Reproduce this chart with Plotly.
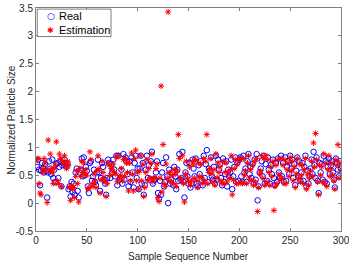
import plotly.graph_objects as go

sample_index = list(range(1, 301))

real_values = [
    0.65, 0.78, 0.60, 0.32, 0.58, 0.72, 0.62, 0.55, 0.70, 0.58,
    0.10, 0.55, 0.75, 0.62, 0.52, 0.78, 0.45, 0.60, 0.38, 0.70,
    0.72, 0.45, 0.65, 0.75, 0.30, 0.68, 0.72, 0.78, 0.70, 0.65,
    0.72, 0.25, 0.30, 0.12, 0.38, 0.20, 0.35, 0.15, 0.55, 0.62,
    0.22, 0.10, 0.55, 0.60, 0.80, 0.48, 0.82, 0.50, 0.65, 0.58,
    0.30, 0.18, 0.72, 0.75, 0.40, 0.48, 0.60, 0.38, 0.32, 0.55,
    0.78, 0.55, 0.22, 0.45, 0.72, 0.65, 0.42, 0.35, 0.15, 0.45,
    0.78, 0.72, 0.45, 0.70, 0.55, 0.78, 0.60, 0.48, 0.85, 0.32,
    0.85, 0.42, 0.45, 0.60, 0.35, 0.88, 0.42, 0.82, 0.75, 0.52,
    0.30, 0.75, 0.38, 0.82, 0.55, 0.28, 0.72, 0.85, 0.45, 0.62,
    0.25, 0.62, 0.85, 0.35, 0.72, 0.15, 0.32, 0.60, 0.85, 0.45,
    0.68, 0.42, 0.75, 0.92, 0.35, 0.42, 0.42, 0.55, 0.75, 0.18,
    0.08, 0.40, 0.15, 0.55, 0.72, 0.30, 0.38, 0.82, 0.48, 0.00,
    0.60, 0.35, 0.42, 0.55, 0.32, 0.65, 0.48, 0.25, 0.60, 0.40,
    0.88, 0.42, 0.45, 0.92, 0.38, 0.10, 0.55, 0.72, 0.48, 0.35,
    0.72, 0.28, 0.35, 0.78, 0.62, 0.48, 0.80, 0.35, 0.30, 0.68,
    0.52, 0.75, 0.42, 0.32, 0.85, 0.45, 0.70, 0.95, 0.38, 0.62,
    0.58, 0.82, 0.48, 0.42, 0.65, 0.35, 0.85, 0.42, 0.78, 0.60,
    0.70, 0.45, 0.32, 0.80, 0.38, 0.52, 0.75, 0.30, 0.60, 0.48,
    0.55, 0.78, 0.25, 0.48, 0.65, 0.82, 0.38, 0.72, 0.40, 0.78,
    0.82, 0.48, 0.38, 0.85, 0.55, 0.62, 0.38, 0.75, 0.88, 0.52,
    0.65, 0.45, 0.70, 0.35, 0.78, 0.42, 0.88, 0.05, 0.30, 0.55,
    0.62, 0.75, 0.48, 0.85, 0.35, 0.70, 0.40, 0.82, 0.60, 0.35,
    0.68, 0.52, 0.78, 0.45, 0.32, 0.72, 0.38, 0.80, 0.55, 0.45,
    0.85, 0.48, 0.72, 0.38, 0.82, 0.40, 0.65, 0.75, 0.52, 0.85,
    0.62, 0.78, 0.45, 0.70, 0.32, 0.58, 0.82, 0.48, 0.75, 0.40,
    0.55, 0.72, 0.40, 0.65, 0.85, 0.30, 0.58, 0.35, 0.48, 0.62,
    0.78, 0.52, 0.92, 0.68, 0.45, 0.82, 0.40, 0.18, 0.72, 0.55,
    0.70, 0.42, 0.85, 0.38, 0.75, 0.35, 0.65, 0.80, 0.52, 0.68,
    0.75, 0.55, 0.42, 0.28, 0.80, 0.72, 0.60, 0.48, 0.75, 0.62,
]

estimation_values = [
    0.78, 0.80, 0.35, 0.18, 0.15, 0.62, 0.55, 0.80, 0.72, 0.60,
    0.01, 1.13, 0.58, 0.88, 0.62, 0.55, 0.35, 0.62, 0.70, 1.10,
    0.40, 0.35, 0.88, 0.80, 0.30, 0.75, 0.70, 0.85, 0.72, 0.62,
    0.75, 0.68, 0.28, 0.05, 0.32, 0.25, 0.28, 0.10, 0.48, 0.58,
    0.35, 0.02, 0.62, 0.48, 0.75, 0.55, 0.72, 0.52, 0.60, 0.50,
    0.25, 0.28, 0.92, 0.78, 0.30, 0.35, 0.52, 0.40, 0.28, 0.58,
    0.85, 0.62, 0.18, 0.42, 0.75, 0.55, 0.45, 0.38, 0.12, 0.35,
    0.72, 0.68, 0.50, 0.62, 0.60, 0.70, 0.55, 0.52, 0.82, 0.38,
    0.85, 0.45, 0.50, 0.62, 0.40, 0.78, 0.48, 0.80, 0.72, 0.55,
    0.22, 0.72, 0.40, 0.90, 0.52, 0.22, 0.80, 0.95, 0.40, 0.55,
    0.25, 0.58, 0.85, 0.40, 0.70, 0.12, 0.28, 0.55, 0.78, 0.40,
    0.62, 0.45, 0.72, 0.88, 0.38, 0.45, 0.45, 0.62, 0.70, 0.10,
    0.03, 0.45, 2.10, 0.20, 1.05, 0.35, 0.30, 0.70, 0.45, 3.43,
    0.55, 0.40, 0.38, 0.50, 0.35, 0.60, 0.52, 0.30, 0.58, 1.23,
    0.80, 0.45, 0.40, 0.85, 0.35, 0.02, 0.52, 0.75, 0.45, 0.38,
    0.65, 0.32, 0.40, 0.75, 0.70, 0.45, 0.78, 0.40, 0.28, 0.72,
    0.48, 0.70, 0.45, 0.35, 0.80, 0.40, 0.75, 1.23, 0.35, 0.55,
    0.62, 0.80, 0.52, 0.38, 0.60, 0.32, 0.88, 0.45, 0.72, 0.55,
    0.65, 0.40, 0.35, 0.75, 0.35, 0.55, 0.72, 0.38, 0.55, 0.45,
    0.60, 0.85, 0.15, 0.42, 0.62, 0.78, 0.35, 0.70, 0.35, 0.80,
    0.78, 0.38, 0.35, 0.80, 0.50, 0.58, 0.35, 0.72, 0.85, 0.45,
    0.60, 0.40, 0.68, 0.32, 0.75, 0.38, 0.80, -0.15, 0.28, 0.52,
    0.58, 0.85, 0.45, 0.80, 0.32, 0.85, 0.38, 0.78, 0.55, 0.32,
    0.65, 0.48, 0.75, -0.13, 0.30, 0.68, 0.35, 0.78, 0.52, 0.42,
    0.80, 0.45, 0.68, 0.35, 0.78, 0.35, 0.60, 0.72, 0.48, 0.82,
    0.58, 0.75, 0.40, 0.65, 0.28, 0.52, 0.80, 0.45, 0.70, 0.38,
    0.50, 0.68, 0.35, 0.60, 0.80, 0.25, 0.52, 0.32, 0.45, 0.58,
    0.75, 0.48, 1.08, 0.65, 1.25, 0.78, 0.38, 0.15, 0.68, 0.50,
    0.65, 0.38, 0.88, 0.35, 0.72, 0.30, 0.60, 0.85, 0.48, 0.62,
    0.72, 0.50, 0.40, 0.25, 0.78, 0.68, 1.05, 0.45, 0.72, 0.58,
]

x_ticks = [0, 50, 100, 150, 200, 250, 300]
y_ticks = [-0.5, 0, 0.5, 1, 1.5, 2, 2.5, 3, 3.5]
y_tick_labels = ["-0.5", "0", "0.5", "1", "1.5", "2", "2.5", "3", "3.5"]
legend_labels = ["Real", "Estimation"]
x_title = "Sample Sequence Number"
y_title = "Normalized Particle Size"

fig = go.Figure()
fig.add_trace(go.Scatter(
    x=sample_index, y=real_values, mode="markers", name=legend_labels[0],
    marker=dict(symbol="circle-open", size=5.5, color="#0000FF",
                line=dict(width=1, color="#0000FF")),
))
fig.add_trace(go.Scatter(
    x=sample_index, y=estimation_values, mode="markers", name=legend_labels[1],
    marker=dict(symbol="asterisk-open", size=5, color="#FF0000",
                line=dict(width=1, color="#FF0000")),
))

axis_common = dict(
    showgrid=False, zeroline=False, showline=True, linecolor="#808080",
    linewidth=1, mirror="ticks", ticks="inside", ticklen=3,
    tickcolor="#808080", tickfont=dict(size=10, color="#262626"),
    automargin=False, ticklabeloverflow="allow",
)

fig.update_layout(
    width=349, height=262,
    margin=dict(l=36, r=8, t=8, b=31),
    paper_bgcolor="white", plot_bgcolor="white",
    font=dict(family="Liberation Sans, Arial, sans-serif", color="#262626"),
    showlegend=False,
    xaxis=dict(range=[0, 300], tickvals=x_ticks, **axis_common),
    yaxis=dict(range=[-0.5, 3.5], tickvals=y_ticks, ticktext=y_tick_labels,
               **axis_common),
)

# Axis titles
fig.add_annotation(xref="paper", yref="paper", x=0.5, y=-0.1126, text=x_title,
                   showarrow=False, font=dict(size=10, color="#262626"),
                   xanchor="center", yanchor="middle")
fig.add_annotation(xref="paper", yref="paper", x=-0.0787, y=0.5, text=y_title,
                   showarrow=False, textangle=-90, font=dict(size=10, color="#262626"),
                   xanchor="center", yanchor="middle")

# Legend box (MATLAB style) drawn in paper coordinates
fig.add_shape(type="rect", xref="paper", yref="paper",
              x0=0.004, x1=0.246, y0=0.872, y1=0.995,
              line=dict(color="#262626", width=0.6), fillcolor="white", layer="above")
fig.add_annotation(xref="paper", yref="paper", x=0.049, y=0.964, text="○",
                   showarrow=False, font=dict(size=9, color="#0000FF",
                   family="DejaVu Sans"), xanchor="center", yanchor="middle")
fig.add_annotation(xref="paper", yref="paper", x=0.049, y=0.901, text="✱",
                   showarrow=False, font=dict(size=8, color="#FF0000",
                   family="DejaVu Sans"), xanchor="center", yanchor="middle")
fig.add_annotation(xref="paper", yref="paper", x=0.068, y=0.964, text=legend_labels[0],
                   showarrow=False, font=dict(size=11, color="#000000"),
                   xanchor="left", yanchor="middle")
fig.add_annotation(xref="paper", yref="paper", x=0.068, y=0.901, text=legend_labels[1],
                   showarrow=False, font=dict(size=11, color="#000000"),
                   xanchor="left", yanchor="middle")

fig.write_html(
    "out.html",
    config={"displayModeBar": False},
    post_script="document.body.style.margin='0';document.body.style.overflow='hidden';",
)
